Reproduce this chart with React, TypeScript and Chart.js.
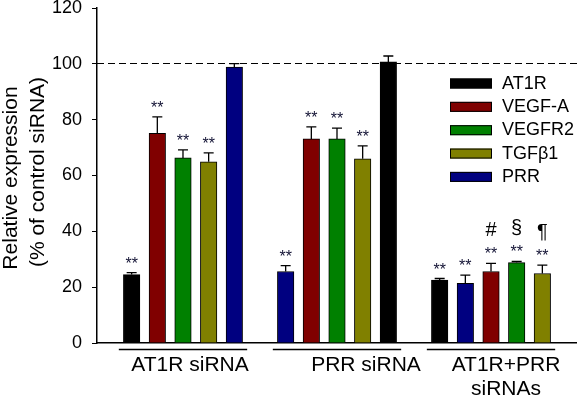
import { useEffect, useRef } from "react";
import { Chart, registerables } from "chart.js";

Chart.register(...registerables);

// ---------- data ----------
const groupNames = ["AT1R siRNA", "PRR siRNA", "AT1R+PRR\nsiRNAs"];
const genes = ["AT1R", "VEGF-A", "VEGFR2", "TGFβ1", "PRR"];
const geneColors = ["#000000", "#800000", "#008000", "#808000", "#000080"];

// bar order inside each group
const group1Order = ["AT1R", "VEGF-A", "VEGFR2", "TGFβ1", "PRR"];
const group2Order = ["PRR", "VEGF-A", "VEGFR2", "TGFβ1", "AT1R"];
const group3Order = ["AT1R", "PRR", "VEGF-A", "VEGFR2", "TGFβ1"];

// values per gene: [AT1R siRNA, PRR siRNA, AT1R+PRR siRNAs]
const at1rValues = [24.5, 100.7, 22.5];
const vegfaValues = [75.1, 73.1, 25.6];
const vegfr2Values = [66.3, 73.1, 28.8];
const tgfb1Values = [64.9, 66.0, 24.9];
const prrValues = [98.8, 25.6, 21.4];

// SEM (upper error bar)
const at1rErrors = [0.7, 2.1, 0.6];
const vegfaErrors = [5.9, 4.3, 2.9];
const vegfr2Errors = [2.9, 3.9, 0.4];
const tgfb1Errors = [3.2, 4.6, 3.0];
const prrErrors = [1.3, 2.1, 2.9];

// significance marks
const at1rStars = ["**", "", "**"];
const vegfaStars = ["**", "**", "**"];
const vegfr2Stars = ["**", "**", "**"];
const tgfb1Stars = ["**", "**", "**"];
const prrStars = ["", "**", "**"];

const at1rSymbols = ["", "", ""];
const vegfaSymbols = ["", "", "#"];
const vegfr2Symbols = ["", "", "§"];
const tgfb1Symbols = ["", "", "¶"];
const prrSymbols = ["", "", ""];

const yTickStep = 20;
const yMin = 0;
const yMax = 120;
const referenceLine = 100;
const yTitleLines = ["Relative expression", "(% of control siRNA)"];

const geneValues = [at1rValues, vegfaValues, vegfr2Values, tgfb1Values, prrValues];
const geneErrors = [at1rErrors, vegfaErrors, vegfr2Errors, tgfb1Errors, prrErrors];
const geneStars = [at1rStars, vegfaStars, vegfr2Stars, tgfb1Stars, prrStars];
const geneSymbols = [at1rSymbols, vegfaSymbols, vegfr2Symbols, tgfb1Symbols, prrSymbols];
const groupOrders = [group1Order, group2Order, group3Order];

const FONT = '"Liberation Sans", Arial, Helvetica, sans-serif';
const SLOTS_PER_GROUP = 6;

const annotPlugin = {
  id: "annot",
  beforeDatasetsDraw(chart: any) {
    const { ctx, chartArea, scales } = chart;
    const py = Math.floor(scales.y.getPixelForValue(referenceLine)) + 0.5;
    ctx.save();
    ctx.setLineDash([7, 4]);
    ctx.lineWidth = 1.2;
    ctx.strokeStyle = "#000";
    ctx.beginPath();
    ctx.moveTo(chartArea.left, py);
    ctx.lineTo(chartArea.right, py);
    ctx.stroke();
    ctx.restore();
  },
  afterDatasetsDraw(chart: any) {
    const { ctx, scales } = chart;
    const y = scales.y;
    ctx.save();
    chart.data.datasets.forEach((_ds: any, di: number) => {
      const meta = chart.getDatasetMeta(di);
      meta.data.forEach((el: any, i: number) => {
        const v = geneValues[di][i];
        const err = geneErrors[di][i];
        const top = y.getPixelForValue(v + err);
        const x = el.x;
        ctx.strokeStyle = "#000";
        ctx.lineWidth = 1.3;
        ctx.setLineDash([]);
        ctx.beginPath();
        ctx.moveTo(x, el.y);
        ctx.lineTo(x, top);
        ctx.moveTo(x - 5, top);
        ctx.lineTo(x + 5, top);
        ctx.stroke();
        ctx.fillStyle = "#111133";
        ctx.textAlign = "center";
        ctx.textBaseline = "alphabetic";
        const stars = geneStars[di][i];
        if (stars) {
          ctx.font = `16px ${FONT}`;
          ctx.fillText(stars, x, top - 4);
        }
        const sym = geneSymbols[di][i];
        if (sym) {
          ctx.font = `20px ${FONT}`;
          ctx.fillStyle = "#000";
          ctx.fillText(sym, x, top - 27);
        }
      });
    });
    ctx.restore();
  },
  afterDraw(chart: any) {
    const { ctx, scales } = chart;
    const x = scales.x;
    ctx.save();
    // legend
    ctx.font = `18px ${FONT}`;
    ctx.textAlign = "left";
    ctx.textBaseline = "alphabetic";
    chart.data.datasets.forEach((ds: any, i: number) => {
      const top = 78.5 + i * 23.35;
      ctx.fillStyle = ds.backgroundColor;
      ctx.fillRect(450, top, 42, 10);
      ctx.strokeStyle = "#000";
      ctx.lineWidth = 1;
      ctx.strokeRect(450.5, top + 0.5, 41, 9);
      ctx.fillStyle = "#000";
      ctx.fillText(ds.label, 502, top + 10);
    });
    // group labels
    const labelCenters = [190, 366, 506];
    groupNames.forEach((name, g) => {
      const x0 = x.getPixelForValue(g * SLOTS_PER_GROUP - 0.5);
      const x1 = x.getPixelForValue(g * SLOTS_PER_GROUP + 4.5);
      ctx.strokeStyle = "#000";
      ctx.lineWidth = 1.5;
      ctx.beginPath();
      ctx.moveTo(x0, 349.5);
      ctx.lineTo(x1, 349.5);
      ctx.stroke();
      ctx.fillStyle = "#000";
      ctx.font = `21px ${FONT}`;
      ctx.textAlign = "center";
      name.split("\n").forEach((line, li) => {
        ctx.fillText(line, labelCenters[g], 371 + li * 24);
      });
    });
    // y title
    ctx.font = `21px ${FONT}`;
    ctx.textAlign = "center";
    ctx.fillStyle = "#000";
    const titlePos = [
      [17, 178],
      [43.5, 172],
    ];
    yTitleLines.forEach((line, li) => {
      ctx.save();
      ctx.translate(titlePos[li][0], titlePos[li][1]);
      ctx.rotate(-Math.PI / 2);
      ctx.fillText(line, 0, 0);
      ctx.restore();
    });
    ctx.restore();
  },
};

export default function App() {
  const ref = useRef<HTMLCanvasElement>(null);
  useEffect(() => {
    if (!ref.current) return;
    const datasets = genes.map((gene, k) => ({
      type: "bar" as const,
      label: gene,
      data: groupOrders.map((order, g) => ({
        x: g * SLOTS_PER_GROUP + order.indexOf(gene),
        y: geneValues[k][g],
      })),
      backgroundColor: geneColors[k],
      borderColor: "#000",
      borderWidth: 1,
      grouped: false,
      barPercentage: 1,
      categoryPercentage: 1,
      maxBarThickness: 16.5,
    }));
    const chart = new Chart(ref.current, {
      type: "bar",
      data: { datasets: datasets as any },
      plugins: [annotPlugin],
      options: {
        animation: false,
        responsive: false,
        events: [],
        layout: { padding: { top: 8, left: 0, right: 0, bottom: 0 } },
        plugins: { legend: { display: false }, tooltip: { enabled: false } },
        scales: {
          x: {
            type: "linear",
            offset: false,
            min: -1.35,
            max: 17.35,
            ticks: { display: false, stepSize: 50 },
            grid: { display: false, offset: false },
            border: { display: true, color: "#000", width: 1.5 },
            afterFit: (s: any) => {
              s.height = 54;
              s.paddingLeft = 0;
              s.paddingRight = 0;
            },
          },
          y: {
            type: "linear",
            min: yMin,
            max: yMax,
            ticks: {
              stepSize: yTickStep,
              color: "#000",
              font: { family: FONT, size: 18 },
              padding: 10,
            },
            grid: {
              display: true,
              drawOnChartArea: false,
              drawTicks: true,
              tickLength: 5,
              color: "#000",
              lineWidth: 1,
            },
            border: { display: true, color: "#000", width: 1.5 },
            afterFit: (s: any) => {
              s.width = 97;
              s.paddingTop = 0;
              s.paddingBottom = 0;
            },
          },
        },
      } as any,
    });
    return () => chart.destroy();
  }, []);
  return (
    <div style={{ position: "fixed", left: 0, top: 0, width: 577, height: 397, background: "#fff" }}>
      <canvas ref={ref} width={577} height={397} style={{ display: "block" }} />
    </div>
  );
}
